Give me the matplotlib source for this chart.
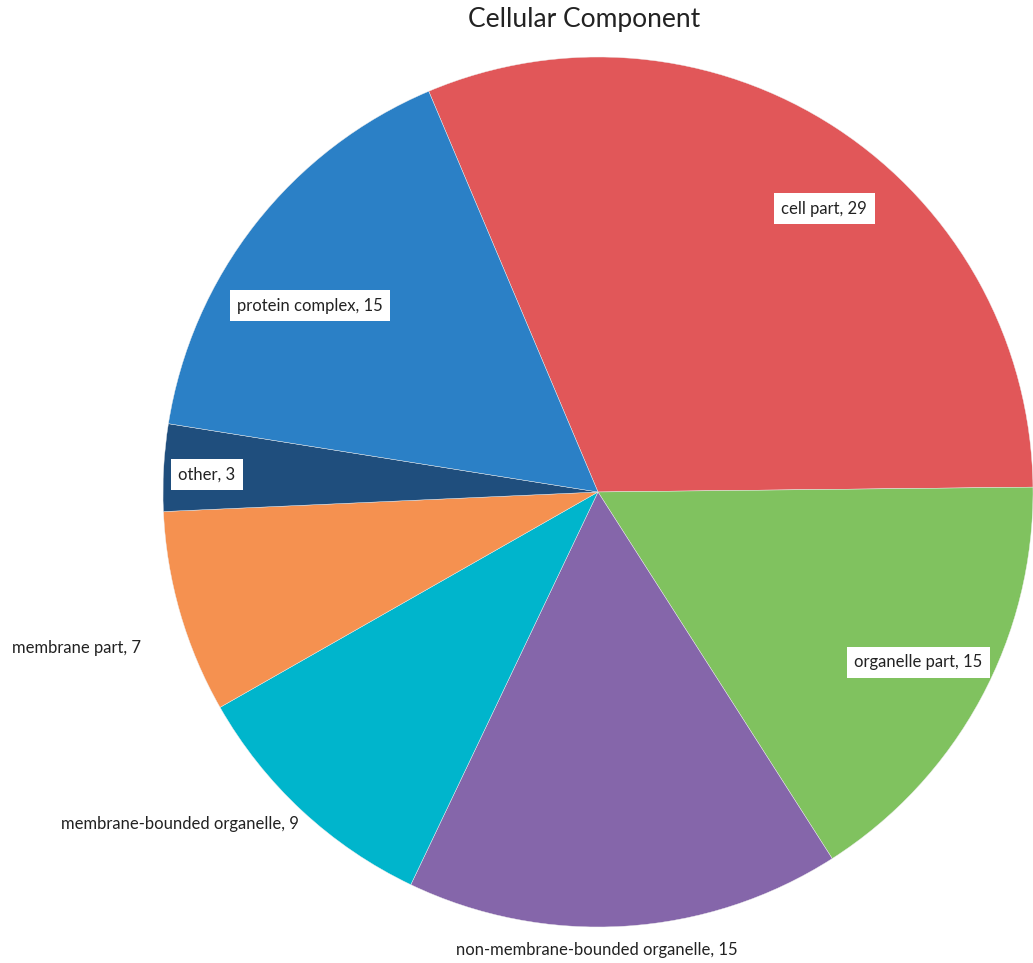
import matplotlib
matplotlib.use("Agg")
import matplotlib.pyplot as plt

plt.rcParams['font.family'] = ['Lato', 'DejaVu Sans']

# data (clockwise from the top-left edge)
categories = ['cell part', 'organelle part', 'non-membrane-bounded organelle',
              'membrane-bounded organelle', 'membrane part', 'other',
              'protein complex']
counts = [29, 15, 15, 9, 7, 3, 15]
colors = ['#e15759', '#80c25f', '#8566aa', '#00b5cc', '#f59150',
          '#1f4e7d', '#2b80c6']

# label placement (pie units) and whether the label sits inside a white box
label_pos = [(0.520, 0.651), (0.736, -0.391), (-0.002, -1.053),
             (-0.961, -0.763), (-1.198, -0.359), (-0.899, 0.041),
             (-0.662, 0.428)]
boxed = [True, True, False, False, False, True, True]

W, H = 1033, 963
fig = plt.figure(figsize=(W / 100, H / 100), dpi=100)
cx, cy, R = 598, 492, 435
ax = fig.add_axes([(cx - R) / W, (H - cy - R) / H, 2 * R / W, 2 * R / H])

wedges, _ = ax.pie(counts, colors=colors, startangle=112.9,
                   counterclock=False, radius=1,
                   wedgeprops=dict(linewidth=0.3, edgecolor='#eeeeee'))
ax.set_xlim(-1, 1)
ax.set_ylim(-1, 1)
ax.set_aspect('equal')
ax.axis('off')

for name, n, (x, y), b in zip(categories, counts, label_pos, boxed):
    kw = {}
    if b:
        kw['bbox'] = dict(boxstyle='square,pad=0.45', fc='white', ec='none')
    ax.text(x, y, f'{name}, {n}', ha='center', va='center', fontsize=12,
            color='#222222', clip_on=False, **kw)

fig.text(584 / W, 1 - 20 / H, 'Cellular Component', ha='center',
         va='center', fontsize=19, color='#222222')

fig.savefig('out.png', dpi=100)
